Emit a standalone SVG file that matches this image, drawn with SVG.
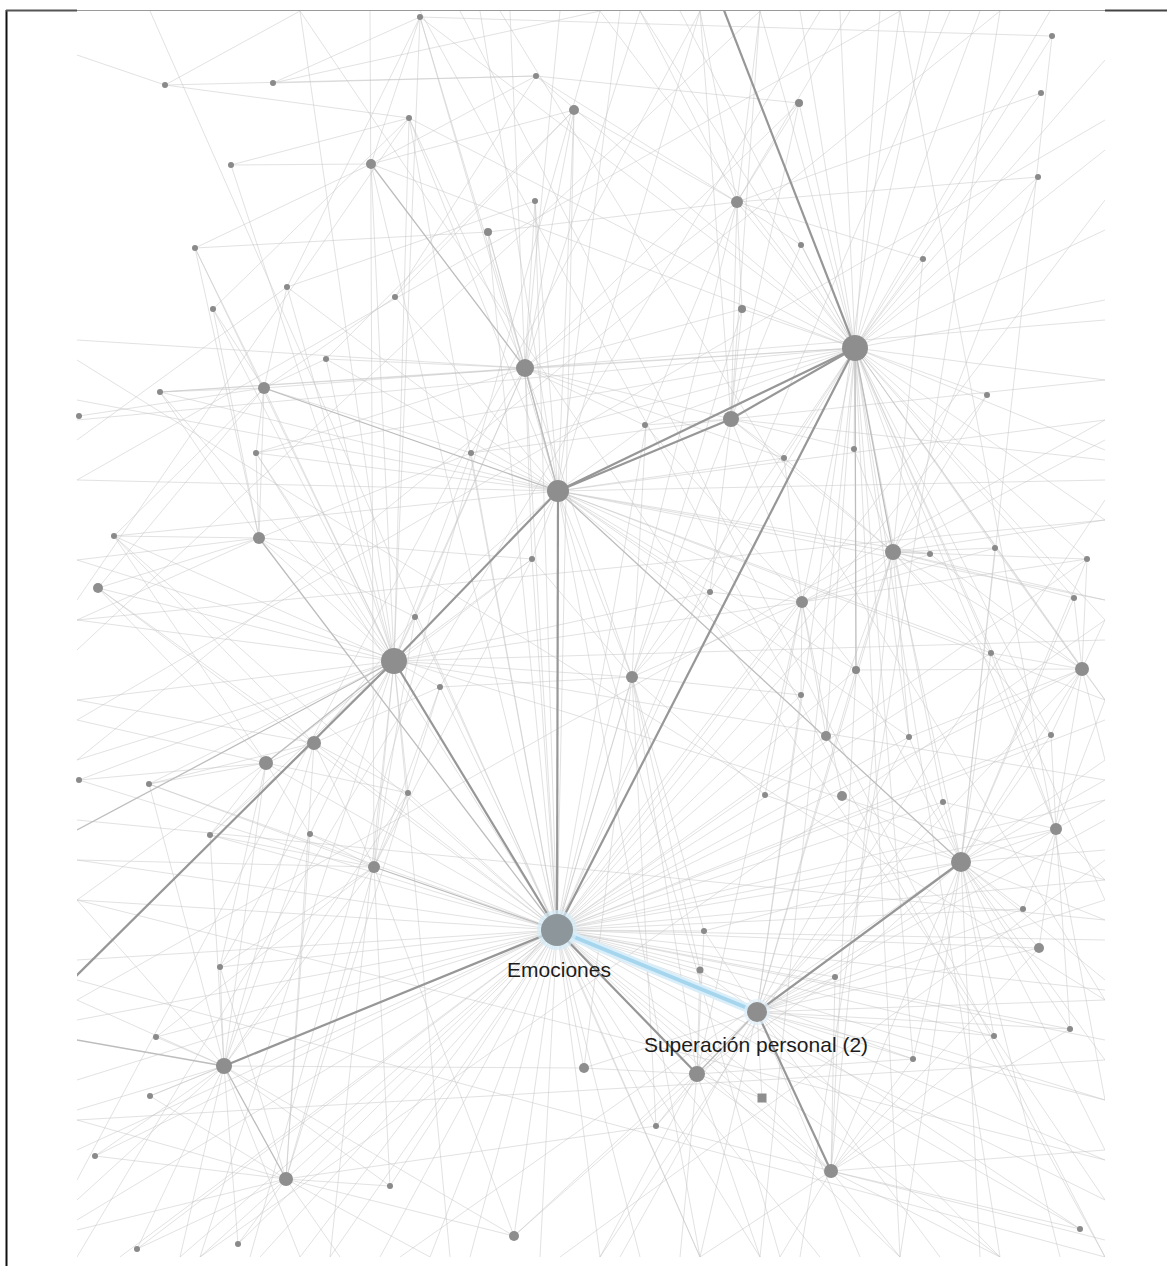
<svg xmlns="http://www.w3.org/2000/svg" width="1167" height="1266" viewBox="0 0 1167 1266">
<style>
.w{stroke:#c6c6c6;stroke-width:1;fill:none;opacity:.5}
.m{stroke:#bdbdbd;stroke-width:1.3;fill:none}
.d{stroke:#979797;stroke-width:2.2;fill:none}
.n{fill:#8e8e8e}
.s{fill:#8a8a8a}
.lbl{font-family:"Liberation Sans",Arial,sans-serif;font-size:21px;fill:#1c1c1c;text-anchor:middle}
</style>
<defs>
<clipPath id="area"><rect x="77" y="11" width="1028" height="1246"/></clipPath>
</defs>
<rect width="1167" height="1266" fill="#fff"/>
<g id="frame">
<line x1="6.5" y1="10" x2="6.5" y2="1266" stroke="#111" stroke-width="2"/>
<line x1="6" y1="10.5" x2="77" y2="10.5" stroke="#555" stroke-width="2"/>
<line x1="77" y1="10.5" x2="1105" y2="10.5" stroke="#9a9a9a" stroke-width="1"/>
<line x1="1105" y1="10.5" x2="1167" y2="10.5" stroke="#444" stroke-width="2"/>
</g>
<g id="connectors" clip-path="url(#area)">
<path class="w" d="M855 348L600 11M855 348L640 11M855 348L680 11M855 348L760 11M855 348L800 11M855 348L840 11M855 348L880 11M855 348L930 11M855 348L980 11M855 348L1050 11M855 348L1105 60M855 348L1105 150M855 348L1105 230M855 348L1105 300M855 348L1105 380M855 348L1105 450M855 348L1105 520M855 348L1105 620M855 348L1105 700M855 348L1105 900M855 348L1052 36M855 348L1041 93M855 348L1038 177M855 348L923 259M855 348L801 245M855 348L799 103M855 348L737 202M855 348L742 309M855 348L645 425M855 348L784 458M855 348L854 449M855 348L930 554M855 348L995 548M855 348L1074 598M855 348L1087 559M855 348L991 653M855 348L1082 669M855 348L909 737M855 348L1051 735M855 348L802 602M855 348L710 592M855 348L632 677M855 348L525 368M855 348L471 453M855 348L409 118M855 348L536 76M855 348L420 17M855 348L371 164M855 348L256 453M855 348L160 392M855 348L77 420M855 348L987 395M855 348L1056 829M855 348L943 802M855 348L826 736M855 348L913 1059M855 348L900 1257M855 348L1000 1257M855 348L760 1257"/>
<path class="w" d="M557 930L77 860M557 930L77 900M557 930L77 960M557 930L77 1020M557 930L77 1080M557 930L77 1150M557 930L77 1220M557 930L120 1257M557 930L180 1257M557 930L260 1257M557 930L330 1257M557 930L380 1257M557 930L430 1257M557 930L470 1257M557 930L540 1257M557 930L600 1257M557 930L640 1257M557 930L700 1257M557 930L760 1257M557 930L820 1257M557 930L900 1257M557 930L1000 1257M557 930L1105 1200M557 930L1105 1100M557 930L1105 1040M557 930L1105 990M557 930L1105 940M557 930L1105 880M557 930L1105 800M557 930L1105 720M557 930L950 11M557 930L220 967M557 930L156 1037M557 930L150 1096M557 930L95 1156M557 930L137 1249M557 930L238 1244M557 930L390 1186M557 930L286 1179M557 930L310 834M557 930L210 835M557 930L149 784M557 930L79 780M557 930L408 793M557 930L440 687M557 930L415 617M557 930L266 763M557 930L314 743M557 930L98 588M557 930L114 536M557 930L256 453M557 930L471 453M557 930L532 559M557 930L525 368M557 930L488 232M557 930L409 118M557 930L535 201M557 930L574 110M557 930L646 426M557 930L710 592M557 930L632 677M557 930L802 602M557 930L801 695M557 930L826 736M557 930L893 552M557 930L856 670M557 930L909 737M557 930L943 802M557 930L1051 735M557 930L1056 829M557 930L1023 909M557 930L1039 948M557 930L994 1036M557 930L1070 1029M557 930L913 1059M557 930L835 977M557 930L700 970M557 930L704 931M557 930L656 1126M557 930L762 1098M557 930L831 1171M557 930L1080 1229M557 930L584 1068M557 930L514 1236M557 930L961 862M557 930L1082 669M557 930L991 653M557 930L987 395M557 930L1087 559M557 930L737 202M557 930L742 309M557 930L371 164"/>
<path class="w" d="M558 491L525 368M558 491L471 453M558 491L409 118M558 491L535 201M558 491L488 232M558 491L574 110M558 491L420 17M558 491L480 11M558 491L620 11M558 491L700 11M558 491L256 453M558 491L114 536M558 491L77 480M558 491L77 400M558 491L160 392M558 491L326 359M558 491L532 559M558 491L415 617M558 491L440 687M558 491L632 677M558 491L710 592M558 491L802 602M558 491L801 695M558 491L646 426M558 491L784 458M558 491L893 552M558 491L1105 600M558 491L1105 480M558 491L1105 700M558 491L991 653M558 491L930 554M558 491L856 670M558 491L909 737M558 491L1105 420M558 491L700 1257M558 491L780 1257M558 491L395 297M558 491L287 287"/>
<path class="w" d="M394 661L259 538M394 661L98 588M394 661L114 536M394 661L77 620M394 661L77 700M394 661L79 780M394 661L149 784M394 661L210 835M394 661L310 834M394 661L77 760M394 661L160 392M394 661L213 309M394 661L287 287M394 661L195 248M394 661L231 165M394 661L371 164M394 661L409 118M394 661L420 17M394 661L300 11M394 661L525 368M394 661L471 453M394 661L532 559M394 661L415 617M394 661L440 687M394 661L632 677M394 661L408 793M394 661L374 867M394 661L220 967M394 661L200 1257M394 661L330 1257M394 661L450 1257M394 661L1105 780M394 661L1105 640M394 661L802 602M394 661L710 592M394 661L256 453M394 661L326 359M394 661L264 388"/>
<path class="w" d="M757 1012L913 1059M757 1012L994 1036M757 1012L1070 1029M757 1012L1039 948M757 1012L1023 909M757 1012L835 977M757 1012L700 970M757 1012L704 931M757 1012L762 1098M757 1012L656 1126M757 1012L1080 1229M757 1012L1105 1000M757 1012L1105 1100M757 1012L1105 1160M757 1012L1105 900M757 1012L1105 820M757 1012L1000 1257M757 1012L940 1257M757 1012L860 1257M757 1012L700 1257M757 1012L620 1257M757 1012L584 1068M757 1012L514 1236M757 1012L893 552M757 1012L856 670M757 1012L801 695M757 1012L909 737M757 1012L943 802M757 1012L1056 829M757 1012L1082 669M757 1012L900 11"/>
<path class="w" d="M961 862L1055 830M961 862L1023 909M961 862L1039 948M961 862L1070 1029M961 862L1105 780M961 862L1105 850M961 862L1105 920M961 862L1105 980M961 862L1105 1060M961 862L1105 1150M961 862L1060 1257M961 862L980 1257M961 862L900 1257M961 862L943 802M961 862L909 737M961 862L1051 735M961 862L991 653M961 862L1082 669M961 862L1074 598M961 862L1087 559M961 862L995 548M961 862L893 552M961 862L856 670M961 862L842 796M961 862L765 795M961 862L835 977M961 862L913 1059M961 862L994 1036M961 862L704 931M961 862L1052 36"/>
<path class="w" d="M525 368L488 232M525 368L535 201M525 368L574 110M525 368L409 118M525 368L420 17M525 368L510 11M525 368L560 11M525 368L640 11M525 368L326 359M525 368L264 388M525 368L160 392M525 368L77 340M525 368L256 453M525 368L471 453M525 368L646 426M525 368L737 202M525 368L742 309M525 368L799 103M525 368L1105 320M525 368L784 458M525 368L532 559M525 368L632 677M525 368L415 617"/>
<path class="w" d="M224 1066L220 967M224 1066L156 1037M224 1066L150 1096M224 1066L95 1156M224 1066L137 1249M224 1066L238 1244M224 1066L390 1186M224 1066L77 1000M224 1066L77 1110M224 1066L77 1200M224 1066L180 1257M224 1066L300 1257M224 1066L374 867M224 1066L314 743M224 1066L266 763M224 1066L210 835M224 1066L310 834M224 1066L149 784M224 1066L77 900M224 1066L408 793M224 1066L514 1236M224 1066L584 1068"/>
<path class="w" d="M286 1179L390 1186M286 1179L238 1244M286 1179L137 1249M286 1179L95 1156M286 1179L150 1096M286 1179L374 867M286 1179L310 834M286 1179L314 743M286 1179L220 967M286 1179L77 1120M286 1179L77 1230M286 1179L200 1257M286 1179L340 1257M286 1179L430 1257M286 1179L514 1236M286 1179L656 1126M286 1179L440 687"/>
<path class="w" d="M831 1171L913 1059M831 1171L994 1036M831 1171L1070 1029M831 1171L1080 1229M831 1171L1105 1150M831 1171L1105 1240M831 1171L1000 1257M831 1171L900 1257M831 1171L780 1257M831 1171L700 1257M831 1171L697 1074M831 1171L762 1098M831 1171L656 1126M831 1171L835 977M831 1171L961 862M831 1171L1039 948M831 1171L893 552M831 1171L856 670"/>
<path class="w" d="M697 1074L762 1098M697 1074L656 1126M697 1074L584 1068M697 1074L514 1236M697 1074L600 1257M697 1074L680 1257M697 1074L760 1257M697 1074L913 1059M697 1074L835 977M697 1074L700 970M697 1074L704 931M697 1074L632 677M697 1074L802 602"/>
<path class="w" d="M731 419L737 202M731 419L742 309M731 419L801 245M731 419L799 103M731 419L645 425M731 419L784 458M731 419L854 449M731 419L893 552M731 419L802 602M731 419L710 592M731 419L632 677M731 419L1105 380M731 419L1105 460M731 419L700 11M731 419L760 11M731 419L525 368M731 419L471 453"/>
<path class="w" d="M893 552L930 554M893 552L995 548M893 552L1087 559M893 552L1074 598M893 552L991 653M893 552L1082 669M893 552L1105 520M893 552L1105 600M893 552L856 670M893 552L802 602M893 552L826 736M893 552L909 737M893 552L1051 735M893 552L923 259M893 552L987 395M893 552L1038 177M893 552L854 449M893 552L784 458M893 552L1105 440"/>
<path class="w" d="M314 743L266 763M314 743L149 784M314 743L210 835M314 743L98 588M314 743L114 536M314 743L408 793M314 743L374 867M314 743L77 700M314 743L440 687M314 743L415 617M266 763L79 780M266 763L77 720M266 763L149 784M266 763L210 835M266 763L98 588M266 763L114 536M266 763L408 793M266 763L310 834M266 763L220 967M266 763L77 900M266 763L532 559"/>
<path class="w" d="M374 867L310 834M374 867L408 793M374 867L440 687M374 867L220 967M374 867L156 1037M374 867L390 1186M374 867L514 1236M374 867L210 835M374 867L149 784M374 867L77 860M374 867L415 617M374 867L532 559M374 867L370 11"/>
<path class="w" d="M1082 669L1087 559M1082 669L1074 598M1082 669L991 653M1082 669L1051 735M1082 669L1105 700M1082 669L1105 760M1082 669L1055 830M1082 669L930 554M1082 669L995 548M1082 669L856 670M1082 669L1105 620M1082 669L909 737"/>
<path class="w" d="M259 538L114 536M259 538L98 588M259 538L256 453M259 538L160 392M259 538L195 248M259 538L213 309M259 538L264 388M259 538L77 560M259 538L77 620M259 538L471 453M259 538L415 617M259 538L532 559"/>
<path class="w" d="M737 202L799 103M737 202L801 245M737 202L742 309M737 202L923 259M737 202L1038 177M737 202L1041 93M737 202L640 11M737 202L700 11M737 202L760 11M737 202L850 11M737 202L574 110M737 202L536 76M737 202L488 232M737 202L645 425"/>
<path class="w" d="M264 388L160 392M264 388L79 416M264 388L195 248M264 388L213 309M264 388L287 287M264 388L326 359M264 388L256 453M264 388L114 536M264 388L98 588M264 388L471 453M264 388L395 297"/>
<path class="w" d="M632 677L710 592M632 677L646 426M632 677L801 695M632 677L765 795M632 677L802 602M632 677L700 970M632 677L704 931M632 677L584 1068M632 677L440 687M632 677L532 559M632 677L656 1126M802 602L710 592M802 602L784 458M802 602L856 670M802 602L801 695M802 602L826 736M802 602L765 795M802 602L842 796M802 602L930 554M802 602L995 548M802 602L1087 559M802 602L646 426"/>
<path class="w" d="M1056 829L1051 735M1056 829L1105 700M1056 829L1105 800M1056 829L1105 880M1056 829L1023 909M1056 829L1039 948M1056 829L943 802M1056 829L991 653M1056 829L1070 1029"/>
<path class="w" d="M77 55L165 85M165 85L300 11M165 85L536 76M165 85L409 118M231 165L409 118M231 165L371 164M195 248L371 164M195 248L488 232M213 309L409 118M287 287L535 201M287 287L420 17M77 440L287 287M395 297L536 76M395 297L574 110M326 359L574 110M77 600L409 118M273 83L420 17M273 83L600 11M273 83L536 76M536 76L799 103M420 17L1052 36M371 164L574 110M371 164L536 76M371 164L420 17"/>
<path class="w" d="M77 480L900 11M77 650L760 11M77 1000L1105 420M200 1257L1105 620M77 900L1105 1160M77 360L1105 1000M300 11L1105 1200M150 11L700 1257M460 11L1105 1257M77 560L1105 880M77 760L1000 11M400 1257L1105 760M77 1120L1105 1060M600 11L250 1257M1000 11L800 1257M1105 200L300 1257M77 620L1105 520M77 820L1105 920M900 11L1105 1100M1105 500L600 1257M77 1180L700 11M1105 120L77 720M1105 1000L500 11M77 1257L820 11M1105 1257L420 11M77 980L1105 1257M560 1257L1105 860"/>
<path class="m" d="M855 348L893 552M525 368L558 491M371 164L525 368M264 388L558 491M394 661L77 830M394 661L266 763M224 1066L286 1179M374 867L557 930M259 538L557 930M558 491L961 862M855 348L856 670M697 1074L757 1012M224 1066L77 1040"/>
<line class="d" x1="855" y1="348" x2="720" y2="0" stroke-width="2.6" stroke="#8a8a8a"/>
<line class="d" x1="558" y1="491" x2="855" y2="348"/>
<line class="d" x1="558" y1="491" x2="731" y2="419"/>
<line class="d" x1="731" y1="419" x2="855" y2="348"/>
<line class="d" x1="558" y1="491" x2="394" y2="661" stroke="#a2a2a2"/>
<line class="d" x1="558" y1="491" x2="557" y2="930" stroke="#a6a6a6"/>
<line class="d" x1="394" y1="661" x2="557" y2="930" stroke="#8a8a8a" stroke-width="2.6"/>
<line class="d" x1="394" y1="661" x2="60" y2="992" stroke="#a4a4a4"/>
<line class="d" x1="557" y1="930" x2="855" y2="348" stroke="#a8a8a8" stroke-width="1.8"/>
<line class="d" x1="757" y1="1012" x2="961" y2="862" stroke="#a0a0a0"/>
<line class="d" x1="757" y1="1012" x2="831" y2="1171" stroke="#999"/>
<line class="d" x1="557" y1="930" x2="697" y2="1074" stroke="#9a9a9a"/>
<line class="d" x1="557" y1="930" x2="224" y2="1066" stroke="#a8a8a8" stroke-width="1.8"/>
<line x1="557" y1="930" x2="757" y2="1012" stroke="#d9eef9" stroke-width="9"/>
<line x1="557" y1="930" x2="757" y2="1012" stroke="#a6d5ee" stroke-width="4"/>
</g>
<g id="small-nodes">
<g id="s1"><circle class="s" cx="165" cy="85" r="3"/></g>
<g id="s2"><circle class="s" cx="273" cy="83" r="3"/></g>
<g id="s3"><circle class="s" cx="409" cy="118" r="3"/></g>
<g id="s4"><circle class="s" cx="420" cy="17" r="3"/></g>
<g id="s5"><circle class="s" cx="536" cy="76" r="3"/></g>
<g id="s6"><circle class="s" cx="231" cy="165" r="3"/></g>
<g id="s7"><circle class="s" cx="195" cy="248" r="3"/></g>
<g id="s8"><circle class="s" cx="287" cy="287" r="3"/></g>
<g id="s9"><circle class="s" cx="395" cy="297" r="3"/></g>
<g id="s10"><circle class="s" cx="535" cy="201" r="3"/></g>
<g id="s11"><circle class="s" cx="488" cy="232" r="4"/></g>
<g id="s12"><circle class="s" cx="213" cy="309" r="3"/></g>
<g id="s13"><circle class="s" cx="326" cy="359" r="3"/></g>
<g id="s14"><circle class="s" cx="160" cy="392" r="3"/></g>
<g id="s15"><circle class="s" cx="79" cy="416" r="3"/></g>
<g id="s16"><circle class="s" cx="1052" cy="36" r="3"/></g>
<g id="s17"><circle class="s" cx="1041" cy="93" r="3"/></g>
<g id="s18"><circle class="s" cx="799" cy="103" r="4"/></g>
<g id="s19"><circle class="s" cx="801" cy="245" r="3"/></g>
<g id="s20"><circle class="s" cx="923" cy="259" r="3"/></g>
<g id="s21"><circle class="s" cx="1038" cy="177" r="3"/></g>
<g id="s22"><circle class="s" cx="742" cy="309" r="4"/></g>
<g id="s23"><circle class="s" cx="987" cy="395" r="3"/></g>
<g id="s24"><circle class="s" cx="645" cy="425" r="3"/></g>
<g id="s25"><circle class="s" cx="256" cy="453" r="3"/></g>
<g id="s26"><circle class="s" cx="471" cy="453" r="3"/></g>
<g id="s27"><circle class="s" cx="114" cy="536" r="3"/></g>
<g id="s28"><circle class="s" cx="532" cy="559" r="3"/></g>
<g id="s29"><circle class="s" cx="415" cy="617" r="3"/></g>
<g id="s30"><circle class="s" cx="440" cy="687" r="3"/></g>
<g id="s31"><circle class="s" cx="79" cy="780" r="3"/></g>
<g id="s32"><circle class="s" cx="149" cy="784" r="3"/></g>
<g id="s33"><circle class="s" cx="408" cy="793" r="3"/></g>
<g id="s34"><circle class="s" cx="210" cy="835" r="3"/></g>
<g id="s35"><circle class="s" cx="310" cy="834" r="3"/></g>
<g id="s36"><circle class="s" cx="784" cy="458" r="3"/></g>
<g id="s37"><circle class="s" cx="854" cy="449" r="3"/></g>
<g id="s38"><circle class="s" cx="930" cy="554" r="3"/></g>
<g id="s39"><circle class="s" cx="995" cy="548" r="3"/></g>
<g id="s40"><circle class="s" cx="1087" cy="559" r="3"/></g>
<g id="s41"><circle class="s" cx="1074" cy="598" r="3"/></g>
<g id="s42"><circle class="s" cx="710" cy="592" r="3"/></g>
<g id="s43"><circle class="s" cx="856" cy="670" r="4"/></g>
<g id="s44"><circle class="s" cx="991" cy="653" r="3"/></g>
<g id="s45"><circle class="s" cx="801" cy="695" r="3"/></g>
<g id="s46"><circle class="s" cx="909" cy="737" r="3"/></g>
<g id="s47"><circle class="s" cx="1051" cy="735" r="3"/></g>
<g id="s48"><circle class="s" cx="765" cy="795" r="3"/></g>
<g id="s49"><circle class="s" cx="943" cy="802" r="3"/></g>
<g id="s50"><circle class="s" cx="220" cy="967" r="3"/></g>
<g id="s51"><circle class="s" cx="156" cy="1037" r="3"/></g>
<g id="s52"><circle class="s" cx="150" cy="1096" r="3"/></g>
<g id="s53"><circle class="s" cx="95" cy="1156" r="3"/></g>
<g id="s54"><circle class="s" cx="390" cy="1186" r="3"/></g>
<g id="s55"><circle class="s" cx="137" cy="1249" r="3"/></g>
<g id="s56"><circle class="s" cx="238" cy="1244" r="3"/></g>
<g id="s57"><circle class="s" cx="1023" cy="909" r="3"/></g>
<g id="s58"><circle class="s" cx="704" cy="931" r="3"/></g>
<g id="s59"><circle class="s" cx="700" cy="970" r="3.5" fill="#8f8590"/></g>
<g id="s60"><circle class="s" cx="835" cy="977" r="3"/></g>
<g id="s61"><circle class="s" cx="994" cy="1036" r="3"/></g>
<g id="s62"><circle class="s" cx="1070" cy="1029" r="3"/></g>
<g id="s63"><circle class="s" cx="913" cy="1059" r="3"/></g>
<g id="s64"><circle class="s" cx="656" cy="1126" r="3"/></g>
<g id="s65"><circle class="s" cx="1080" cy="1229" r="3"/></g>
</g>
<g id="nodes">
<g id="nA"><circle class="n" cx="855" cy="348" r="13"/></g>
<g id="nB"><circle class="n" cx="558" cy="491" r="11"/></g>
<g id="nC"><circle class="n" cx="394" cy="661" r="13"/></g>
<g id="nF"><circle class="n" cx="961" cy="862" r="10"/></g>
<g id="nG"><circle class="n" cx="525" cy="368" r="9"/></g>
<g id="nH"><circle class="n" cx="731" cy="419" r="8"/></g>
<g id="nI"><circle class="n" cx="893" cy="552" r="8"/></g>
<g id="nJ"><circle class="n" cx="224" cy="1066" r="8"/></g>
<g id="nK"><circle class="n" cx="286" cy="1179" r="7"/></g>
<g id="nL"><circle class="n" cx="831" cy="1171" r="7"/></g>
<g id="nM"><circle class="n" cx="697" cy="1074" r="8"/></g>
<g id="nN"><circle class="n" cx="314" cy="743" r="7"/></g>
<g id="nO"><circle class="n" cx="266" cy="763" r="7"/></g>
<g id="nP"><circle class="n" cx="374" cy="867" r="6"/></g>
<g id="nQ"><circle class="n" cx="1082" cy="669" r="7"/></g>
<g id="nR"><circle class="n" cx="259" cy="538" r="6"/></g>
<g id="nS"><circle class="n" cx="737" cy="202" r="6"/></g>
<g id="nT"><circle class="n" cx="371" cy="164" r="5"/></g>
<g id="nU"><circle class="n" cx="264" cy="388" r="6"/></g>
<g id="nV"><circle class="n" cx="632" cy="677" r="6"/></g>
<g id="nW"><circle class="n" cx="802" cy="602" r="6"/></g>
<g id="nX"><circle class="n" cx="1056" cy="829" r="6"/></g>
<g id="nY"><circle class="n" cx="574" cy="110" r="5"/></g>
<g id="nZ"><circle class="n" cx="98" cy="588" r="5"/></g>
<g id="n584"><circle class="n" cx="584" cy="1068" r="5"/></g>
<g id="n514"><circle class="n" cx="514" cy="1236" r="5"/></g>
<g id="n762"><rect class="n" x="757.5" y="1093.5" width="9" height="9"/></g>
<g id="n1039"><circle class="n" cx="1039" cy="948" r="5"/></g>
<g id="n826"><circle class="n" cx="826" cy="736" r="5"/></g>
<g id="n842"><circle class="n" cx="842" cy="796" r="5"/></g>
<g id="nE"><circle cx="757" cy="1012" r="13" fill="#dff0f9" opacity=".7"/><circle class="n" cx="757" cy="1012" r="10"/><text class="lbl" x="756" y="1052">Superación personal (2)</text></g>
<g id="nD"><circle cx="557" cy="930" r="20" fill="#d6ecf8" opacity=".7"/><circle cx="557" cy="930" r="16" fill="#8d979b"/><text class="lbl" x="559" y="977">Emociones</text></g>
</g>
</svg>
